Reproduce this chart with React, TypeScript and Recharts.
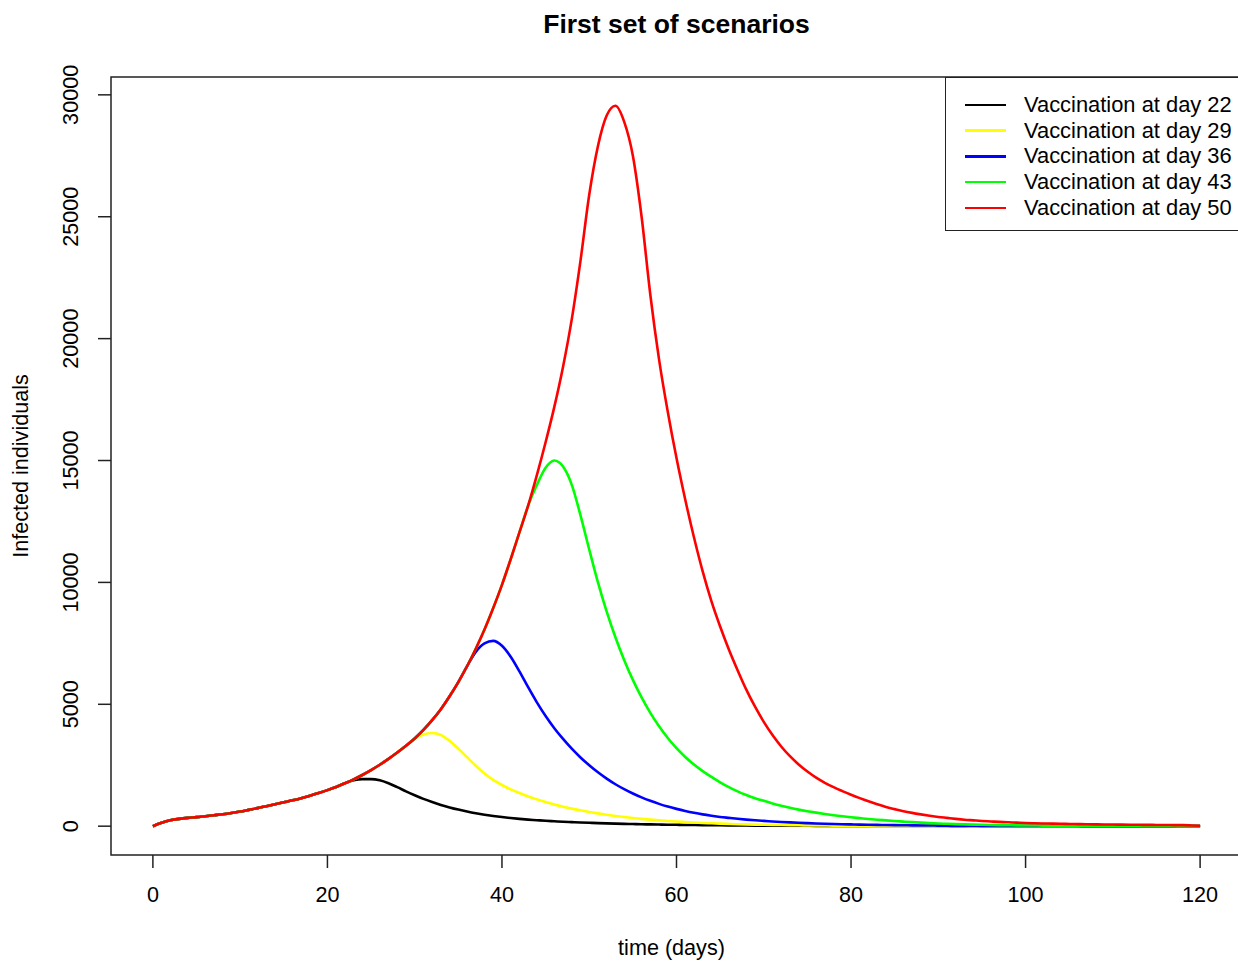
import { Label, Line, LineChart, ReferenceArea, XAxis, YAxis } from "recharts";

const FONT = '"Liberation Sans", Arial, Helvetica, sans-serif';

// time axis (days) and scenarios
const days = Array.from({ length: 121 }, (_, i) => i);
const vaccinationDays = [22, 29, 36, 43, 50];
const seriesColors = ["#000000", "#ffff00", "#0000ff", "#00ff00", "#ff0000"];
const xTicks = [0, 20, 40, 60, 80, 100, 120];
const yTicks = [0, 5000, 10000, 15000, 20000, 25000, 30000];

// vaccination at day 50 (also the shared curve before each vaccination day), days 0..120
const infectedDay50 = [
  0, 140, 245, 300, 340, 370, 410, 450, 490, 540,
  600, 670, 740, 820, 900, 980, 1060, 1150, 1250, 1360,
  1480, 1610, 1760, 1920, 2100, 2300, 2520, 2760, 3020, 3300,
  3600, 3950, 4350, 4800, 5330, 5910, 6560, 7280, 8070, 8950,
  9900, 10950, 12050, 13150, 14400, 15750, 17200, 18850, 20800, 23200,
  25900, 27900, 29150, 29550, 28900, 27500, 25000, 21800, 19150, 17000,
  15100, 13400, 11850, 10450, 9230, 8190, 7250, 6400, 5600, 4900,
  4280, 3740, 3270, 2870, 2530, 2240, 1990, 1780, 1600, 1440,
  1290, 1150, 1020, 900, 790, 700, 615, 545, 485, 430,
  380, 340, 300, 265, 240, 215, 195, 175, 160, 145,
  130, 120, 112, 105, 98, 92, 86, 81, 76, 72,
  68, 64, 60, 57, 54, 51, 48, 45, 42, 30, 15,
];

// values after each vaccination day (day+1 .. 120)
const afterDay22 = [
  1880, 1930, 1930, 1880, 1760, 1600, 1430,
  1270, 1120, 990, 870, 770, 680, 600, 530, 470, 420,
  375, 335, 300, 270, 245, 220, 200, 180, 165, 150,
  138, 126, 115, 105, 96, 88, 80, 73, 67, 61,
  56, 51, 47, 43, 39, 36, 33, 30, 27, 25,
  23, 21, 19, 17, 16, 15, 14, 13, 12, 11,
  10, 9, 9, 8, 8, 7, 7, 6, 6, 5,
  5, 5, 4, 4, 4, 3, 3, 3, 3, 2,
  2, 2, 2, 2, 2, 2, 1, 1, 1, 1,
  1, 1, 1, 1, 1, 1, 1, 1, 1, 1, 1,
];
const afterDay29 = [
  3580, 3760, 3820, 3740, 3500, 3180, 2830, 2480, 2160, 1900,
  1690, 1510, 1360, 1220, 1100, 990, 890, 800, 720, 650,
  585, 525, 470, 420, 375, 335, 300, 268, 240, 214,
  190, 170, 150, 133, 118, 105, 93, 82, 73, 65,
  58, 52, 46, 41, 37, 33, 29, 26, 23, 21,
  19, 17, 15, 13, 12, 11, 10, 9, 8, 7,
  6, 6, 5, 5, 4, 4, 4, 3, 3, 3,
  3, 2, 2, 2, 2, 2, 2, 1, 1, 1,
  1, 1, 1, 1, 1, 1, 1, 1, 1, 1, 1,
];
const afterDay36 = [
  7150, 7500, 7600,
  7400, 6950, 6350, 5700, 5080, 4520, 4020, 3580, 3180, 2820,
  2500, 2210, 1950, 1720, 1520, 1340, 1180, 1040, 915, 805,
  710, 625, 550, 485, 430, 380, 340, 302, 270, 242,
  218, 195, 174, 155, 138, 124, 111, 100, 90, 81,
  73, 65, 58, 52, 47, 42, 38, 34, 30, 27,
  24, 22, 20, 18, 16, 14, 13, 12, 11, 10,
  9, 8, 7, 6, 6, 5, 5, 4, 4, 4,
  3, 3, 3, 3, 2, 2, 2, 2, 2, 2, 2,
];
const afterDay43 = [
  14000, 14700, 15000, 14750, 14000, 12750,
  11350, 10000, 8800, 7750, 6820, 6000, 5280, 4650, 4100, 3620,
  3200, 2840, 2530, 2260, 2020, 1800, 1600, 1430, 1280, 1150,
  1040, 935, 840, 755, 680, 615, 555, 500, 450, 405,
  365, 330, 295, 265, 238, 212, 188, 165, 145, 127,
  111, 97, 85, 75, 66, 58, 51, 45, 40, 35,
  31, 27, 24, 21, 19, 17, 15, 13, 12, 11,
  10, 9, 8, 7, 6, 6, 5, 5, 4, 4, 4,
];
const afterVaccination = [afterDay22, afterDay29, afterDay36, afterDay43];

const keyFor = (d: number) => `v${d}`;

const rows = days.map((t) => {
  const row: Record<string, number> = { t };
  vaccinationDays.forEach((vd, k) => {
    row[keyFor(vd)] =
      k === vaccinationDays.length - 1 || t <= vd
        ? infectedDay50[t]
        : afterVaccination[k][t - vd - 1];
  });
  return row;
});

// R-style 4% padding round the data range
const xDomain: [number, number] = [-4.8, 124.8];
const yDomain: [number, number] = [-1182, 30732];

function YTick({ x, y, payload }: any) {
  return (
    <text
      x={x}
      y={y}
      transform={`rotate(-90 ${x} ${y})`}
      textAnchor="middle"
      fontSize={21.6}
      fontFamily={FONT}
      fill="#000"
    >
      {payload.value}
    </text>
  );
}

export default function App() {
  return (
    <div
      style={{
        position: "absolute",
        left: 0,
        top: 0,
        width: 1238,
        height: 962,
        overflow: "hidden",
        background: "#fff",
        fontFamily: FONT,
      }}
    >
      <div
        style={{
          position: "absolute",
          left: 111,
          width: 1131,
          top: 9,
          height: 30,
          lineHeight: "30px",
          textAlign: "center",
          fontSize: 26.5,
          fontWeight: "bold",
          color: "#000",
        }}
      >
        First set of scenarios
      </div>
      <LineChart
        width={1250}
        height={962}
        data={rows}
        margin={{ top: 77, right: 8, left: 0, bottom: 47 }}
      >
        <XAxis
          dataKey="t"
          type="number"
          domain={xDomain}
          ticks={xTicks}
          allowDataOverflow
          axisLine={false}
          tickLine={{ stroke: "#222", strokeWidth: 1.5 }}
          tickSize={13}
          tickMargin={19}
          height={60}
          tick={{ fill: "#000", fontSize: 21.6, fontFamily: FONT }}
        >
          <Label
            content={({ viewBox }: any) => (
              <text
                x={viewBox.x + viewBox.width / 2 - 5}
                y={955}
                textAnchor="middle"
                fontSize={21.6}
                fontFamily={FONT}
                fill="#000"
              >
                time (days)
              </text>
            )}
          />
        </XAxis>
        <YAxis
          type="number"
          domain={yDomain}
          ticks={yTicks}
          allowDataOverflow
          axisLine={false}
          tickLine={{ stroke: "#222", strokeWidth: 1.5 }}
          tickSize={13}
          tickMargin={20}
          width={111}
          tick={<YTick />}
        >
          <Label
            content={() => (
              <text
                x={28}
                y={466}
                transform="rotate(-90 28 466)"
                textAnchor="middle"
                fontSize={21.6}
                fontFamily={FONT}
                fill="#000"
              >
                Infected individuals
              </text>
            )}
          />
        </YAxis>
        <ReferenceArea
          x1={xDomain[0]}
          x2={xDomain[1]}
          y1={yDomain[0]}
          y2={yDomain[1]}
          fill="none"
          stroke="#222"
          strokeWidth={1.5}
          ifOverflow="visible"
        />
        {vaccinationDays.map((vd, k) => (
          <Line
            key={vd}
            type="monotone"
            dataKey={keyFor(vd)}
            name={`Vaccination at day ${vd}`}
            stroke={seriesColors[k]}
            strokeWidth={2.6}
            dot={false}
            activeDot={false}
            isAnimationActive={false}
          />
        ))}
      </LineChart>
      <div
        style={{
          position: "absolute",
          left: 945,
          top: 77,
          width: 320,
          height: 154,
          border: "1.5px solid #222",
          boxSizing: "border-box",
          background: "#fff",
        }}
      >
        {vaccinationDays.map((vd, k) => (
          <div
            key={vd}
            style={{
              position: "absolute",
              left: 0,
              top: 14 + k * 25.75,
              height: 25.75,
              display: "flex",
              alignItems: "center",
              whiteSpace: "nowrap",
            }}
          >
            <div
              style={{
                marginLeft: 19,
                width: 41,
                height: 2.6,
                background: seriesColors[k],
              }}
            />
            <span style={{ marginLeft: 18, fontSize: 21.9, color: "#000" }}>
              {`Vaccination at day ${vd}`}
            </span>
          </div>
        ))}
      </div>
    </div>
  );
}
